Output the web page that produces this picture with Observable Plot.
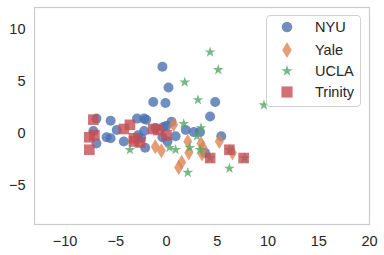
<!DOCTYPE html>
<html>
<head>
<meta charset="utf-8">
<script src="https://cdn.jsdelivr.net/npm/d3@7"></script>
<script src="https://cdn.jsdelivr.net/npm/@observablehq/plot@0.6"></script>
<style>
  html, body { margin: 0; padding: 0; background: #fff; }
  #wrap { position: relative; width: 384px; height: 255px; font-family: "Liberation Sans", Arial, sans-serif; }
  #legend { position: absolute; left: 266px; top: 15px; width: 93px; height: 90px;
    border: 1px solid #d0d0d0; border-radius: 4px; background: rgba(255,255,255,0.8); }
  .row { position: absolute; left: 0; height: 20px; display: flex; align-items: center; }
  .row svg { width: 40px; height: 20px; }
  .row span { font-size: 14.5px; color: #262626; margin-left: 8px; }
</style>
</head>
<body>
<div id="wrap"></div>
<script>
const seriesNames = ["NYU", "Yale", "UCLA", "Trinity"];
const seriesColors = ["#4C72B0", "#DD8452", "#55A868", "#C44E52"];
const xTicks = [-10, -5, 0, 5, 10, 15, 20];
const yTicks = [-5, 0, 5, 10];

const nyu = [[-0.4,6.4],[0.2,4.4],[-1.3,3.0],[-0.1,2.9],[4.8,3.0],[4.3,1.6],[-6.9,1.4],[-5.5,1.2],[-2.9,1.4],[-2.2,1.4],[-2.0,1.3],[-7.2,0.2],[-6.9,-1.0],[-5.9,-0.4],[-5.5,-0.5],[-4.9,0.3],[-4.2,-0.8],[-2.8,-0.2],[-2.5,-0.5],[-2.1,-1.4],[-2.2,0.2],[-1.1,0.5],[-0.3,0.6],[0.5,1.1],[0.0,0.7],[-0.4,-0.4],[0.1,-0.8],[0.9,-0.3],[1.9,0.3],[2.7,0.1],[3.3,0.1],[3.8,-1.9],[5.4,-0.3]];
const yale = [[0.7,0.8],[-1.1,-1.3],[-0.5,-1.7],[2.1,-0.8],[2.2,-1.9],[1.5,-2.8],[1.2,-3.3],[3.4,-1.0],[3.6,-1.4],[3.5,-2.0],[5.2,-0.8],[6.5,-1.9]];
const ucla = [[4.3,7.8],[5.1,6.1],[1.8,4.9],[3.1,3.2],[9.6,2.7],[1.7,0.9],[3.4,0.5],[3.0,-0.3],[-3.6,-1.6],[0.3,-1.4],[0.9,-1.6],[2.3,-1.4],[3.3,-1.6],[2.1,-3.8],[6.2,-3.4],[6.2,-1.6],[4.3,-2.4],[7.7,-2.4]];
const trinity = [[-7.2,1.3],[-7.6,-0.4],[-7.1,-0.2],[-7.6,-1.6],[-4.2,0.4],[-3.6,0.8],[-3.2,-0.5],[-3.2,-0.8],[-2.6,-0.9],[-1.3,0.4],[-0.8,0.3],[0.0,-0.2],[4.3,-2.4],[6.2,-1.6],[7.6,-2.4]];

const thinDiamond = {
  draw(ctx, size) {
    const s = Math.sqrt(size), h = s * 0.85, w = h * 0.6;
    ctx.moveTo(0, -h); ctx.lineTo(w, 0); ctx.lineTo(0, h); ctx.lineTo(-w, 0); ctx.closePath();
  }
};
const symbols = ["circle", thinDiamond, "star", "square"];
const d3Symbols = [d3.symbolCircle, thinDiamond, d3.symbolStar, d3.symbolSquare];
const radii = [5, 5, 3.4, 6];
const datasets = [nyu, yale, ucla, trinity];

const fmt = d3.format("d");
const chart = Plot.plot({
  width: 384, height: 255,
  marginLeft: 34, marginRight: 15, marginTop: 7, marginBottom: 31,
  style: { fontSize: "14.5px", fontFamily: "'Liberation Sans', Arial, sans-serif", color: "#262626", background: "#fff" },
  x: { domain: [-13, 20], ticks: xTicks, tickSize: 0, tickPadding: 11, label: null, tickFormat: fmt },
  y: { domain: [-8.8, 12.1], ticks: yTicks, tickSize: 0, tickPadding: 9, label: null, tickFormat: fmt },
  marks: [
    Plot.frame({ stroke: "#cccccc", strokeWidth: 1.2 }),
    ...datasets.map((data, i) => Plot.dot(data, {
      x: d => d[0], y: d => d[1], symbol: () => symbols[i], r: radii[i],
      fill: seriesColors[i], fillOpacity: 0.8, stroke: "none"
    }))
  ]
});
const wrap = document.getElementById("wrap");
wrap.appendChild(chart);

const legend = document.createElement("div");
legend.id = "legend";
const rowTops = [1, 24, 45, 66];
seriesNames.forEach((name, i) => {
  const row = document.createElement("div");
  row.className = "row";
  row.style.top = rowTops[i] + "px";
  const svg = d3.create("svg");
  const r = radii[i] * 1.05;
  svg.append("path")
    .attr("transform", "translate(20,10)")
    .attr("d", d3.symbol(d3Symbols[i], Math.PI * r * r)())
    .attr("fill", seriesColors[i]).attr("fill-opacity", 0.8);
  row.appendChild(svg.node());
  const span = document.createElement("span");
  span.textContent = name;
  row.appendChild(span);
  legend.appendChild(row);
});
wrap.appendChild(legend);
</script>
</body>
</html>
